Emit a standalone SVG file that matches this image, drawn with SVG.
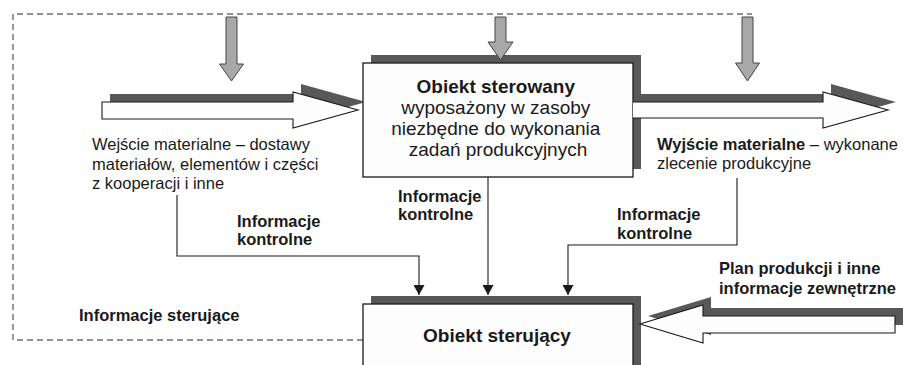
<svg xmlns="http://www.w3.org/2000/svg" width="903" height="365" viewBox="0 0 903 365">
  <defs>
    <style>
      .shadow { fill: #585858; stroke: none; }
      .box { fill: #fdfdfd; stroke: #1a1a1a; stroke-width: 1.3; }
      .block { fill: #fdfdfd; stroke: #1a1a1a; stroke-width: 1.1; stroke-linejoin: miter; }
      .gray { fill: #a8a8a8; stroke: #444; stroke-width: 1; }
      .dash { fill: none; stroke: #6e6e6e; stroke-width: 1.4; stroke-dasharray: 6 4; }
      .conn { fill: none; stroke: #1a1a1a; stroke-width: 1.1; }
      .t { font-family: "Liberation Sans", Arial, sans-serif; fill: #1a1a1a; }
      .reg { font-size: 16.5px; }
      .bold { font-size: 16.5px; font-weight: bold; }
      .boxt { font-size: 19px; }
      .boxb { font-size: 19px; font-weight: bold; }
    </style>
    <marker id="ah" markerUnits="userSpaceOnUse" markerWidth="10" markerHeight="11" refX="10" refY="5.5" orient="auto" viewBox="0 0 10 11">
      <path d="M0,0 L10,5.5 L0,11 Z" fill="#1a1a1a"/>
    </marker>
  </defs>
  <rect width="903" height="365" fill="#ffffff"/>

  <!-- control information feedback (dashed) -->
  <g id="sterowanie-dashed">
    <polyline class="dash" points="363,340 13,340 13,14 752,14"/>
  </g>

  <!-- material input arrow -->
  <g id="wejscie-arrow">
    <polygon class="shadow" points="110,94 301,94 301,84 366,102 301,120 301,111 110,111"/>
    <polygon class="block" points="102,102 293,102 293,92 358,110 293,128 293,119 102,119"/>
  </g>

  <!-- controlled object -->
  <g id="obiekt-sterowany">
    <rect class="shadow" x="371" y="55" width="270" height="114"/>
    <rect class="box" x="363" y="63" width="270" height="114"/>
    <text class="t" text-anchor="middle">
      <tspan class="boxb" x="498" y="93">Obiekt sterowany</tspan>
      <tspan class="boxt" x="498" y="114">wyposażony w zasoby</tspan>
      <tspan class="boxt" x="498" y="135">niezbędne do wykonania</tspan>
      <tspan class="boxt" x="498" y="156">zadań produkcyjnych</tspan>
    </text>
  </g>

  <!-- gray control arrows -->
  <g id="gray-arrows">
    <polygon class="gray" points="226,17 237,17 237,64 243.5,64 231.5,81 219.5,64 226,64"/>
    <polygon class="gray" points="495,17 506,17 506,42 513,42 500.5,60 488,42 495,42"/>
    <polygon class="gray" points="742,17 753,17 753,63 759.5,63 747.5,81 735.5,63 742,63"/>
  </g>

  <!-- material output arrow -->
  <g id="wyjscie-arrow">
    <polygon class="shadow" points="640,94 831,94 831,84 896,102 831,120 831,110 640,110"/>
    <polygon fill="#fdfdfd" points="633,102 823,102 823,92 888,110 823,128 823,118 633,118"/>
    <polyline class="block" fill="none" points="633,102 823,102 823,92 888,110 823,128 823,118 633,118"/>
  </g>

  <!-- external plan arrow (shadow) -->
  <g id="plan-arrow-shadow">
    <polygon class="shadow" points="903,308 711,308 711,297 648,316 711,335 711,325 903,325"/>
  </g>

  <!-- controlling object -->
  <g id="obiekt-sterujacy">
    <rect class="shadow" x="371" y="296" width="270" height="80"/>
    <rect class="box" x="363" y="304" width="270" height="80"/>
    <text class="t boxb" x="497" y="342" text-anchor="middle">Obiekt sterujący</text>
  </g>

  <g id="plan-arrow">
    <polygon class="block" points="895,316 703,316 703,305 640,324 703,343 703,333 895,333"/>
  </g>

  <!-- connectors -->
  <g id="connectors">
    <polyline class="conn" points="177,195 177,256 419,256 419,295" marker-end="url(#ah)"/>
    <line class="conn" x1="488" y1="177" x2="488" y2="295" marker-end="url(#ah)"/>
    <polyline class="conn" points="737,178 737,245 568,245 568,295" marker-end="url(#ah)"/>
  </g>

  <!-- labels -->
  <g id="label-wejscie">
    <text class="t reg">
      <tspan x="92" y="150">Wejście materialne – dostawy</tspan>
      <tspan x="92" y="169.5">materiałów, elementów i części</tspan>
      <tspan x="92" y="189">z kooperacji i inne</tspan>
    </text>
  </g>
  <g id="label-wyjscie">
    <text class="t reg">
      <tspan x="657" y="150"><tspan font-weight="bold">Wyjście materialne</tspan> – wykonane</tspan>
      <tspan x="657" y="169">zlecenie produkcyjne</tspan>
    </text>
  </g>
  <g id="label-kontrolne-1">
    <text class="t bold">
      <tspan x="237" y="227">Informacje</tspan>
      <tspan x="237" y="245">kontrolne</tspan>
    </text>
  </g>
  <g id="label-kontrolne-2">
    <text class="t bold">
      <tspan x="398" y="202">Informacje</tspan>
      <tspan x="398" y="220">kontrolne</tspan>
    </text>
  </g>
  <g id="label-kontrolne-3">
    <text class="t bold">
      <tspan x="617" y="220">Informacje</tspan>
      <tspan x="617" y="239">kontrolne</tspan>
    </text>
  </g>
  <g id="label-plan">
    <text class="t bold">
      <tspan x="719" y="274">Plan produkcji i inne</tspan>
      <tspan x="719" y="294">informacje zewnętrzne</tspan>
    </text>
  </g>
  <g id="label-sterujace">
    <text class="t bold" x="79" y="321">Informacje sterujące</text>
  </g>
</svg>
